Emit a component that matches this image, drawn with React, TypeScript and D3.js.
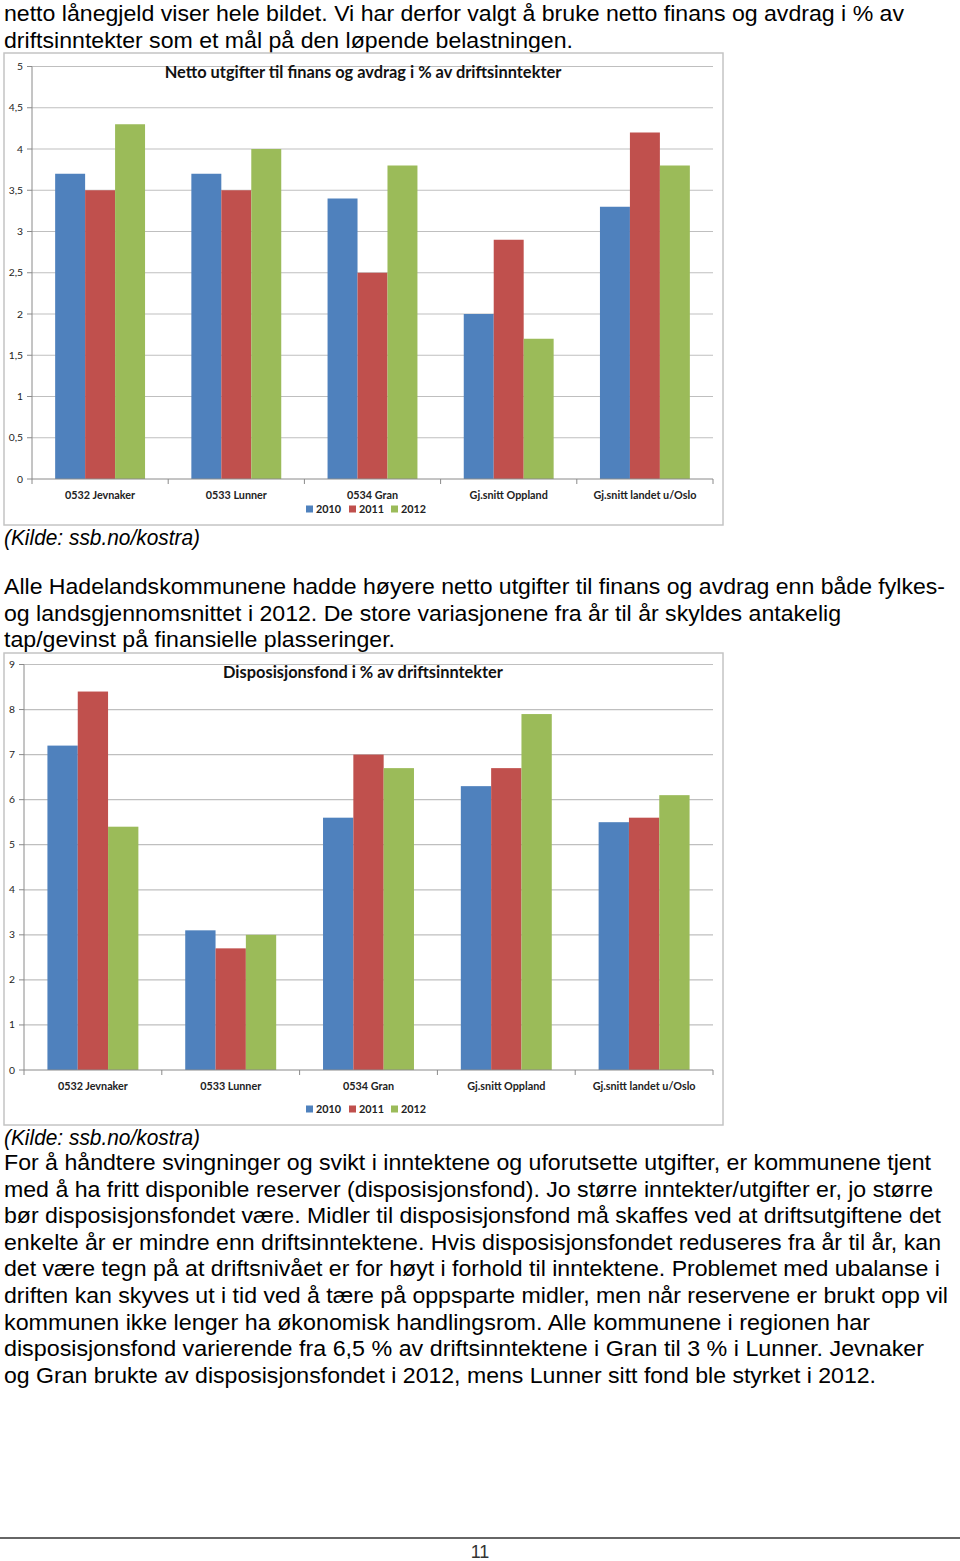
import React from "react";
import * as d3 from "d3";

const categories1 = ["0532 Jevnaker", "0533 Lunner", "0534 Gran", "Gj.snitt Oppland", "Gj.snitt landet u/Oslo"];
const series = ["2010", "2011", "2012"];
const colors = ["#4F81BD", "#C0504D", "#9BBB59"];

const finans2010 = [3.7, 3.7, 3.4, 2.0, 3.3];
const finans2011 = [3.5, 3.5, 2.5, 2.9, 4.2];
const finans2012 = [4.3, 4.0, 3.8, 1.7, 3.8];
const finansTicks = ["0", "0,5", "1", "1,5", "2", "2,5", "3", "3,5", "4", "4,5", "5"];

const fond2010 = [7.2, 3.1, 5.6, 6.3, 5.5];
const fond2011 = [8.4, 2.7, 7.0, 6.7, 5.6];
const fond2012 = [5.4, 3.0, 6.7, 7.9, 6.1];
const fondTicks = ["0", "1", "2", "3", "4", "5", "6", "7", "8", "9"];

const textTop = [
  { t: "netto lånegjeld viser hele bildet. Vi har derfor valgt å bruke netto finans og avdrag i % av", y: 21, w: 900 },
  { t: "driftsinntekter som et mål på den løpende belastningen.", y: 47.5, w: 569 },
];
const textMid = [
  { t: "Alle Hadelandskommunene hadde høyere netto utgifter til finans og avdrag enn både fylkes-", y: 594, w: 941 },
  { t: "og landsgjennomsnittet i 2012. De store variasjonene fra år til år skyldes antakelig", y: 621, w: 837 },
  { t: "tap/gevinst på finansielle plasseringer.", y: 647, w: 391 },
];
const textBottom = [
  { t: "For å håndtere svingninger og svikt i inntektene og uforutsette utgifter, er kommunene tjent", w: 927 },
  { t: "med å ha fritt disponible reserver (disposisjonsfond). Jo større inntekter/utgifter er, jo større", w: 929 },
  { t: "bør disposisjonsfondet være. Midler til disposisjonsfond må skaffes ved at driftsutgiftene det", w: 937 },
  { t: "enkelte år er mindre enn driftsinntektene. Hvis disposisjonsfondet reduseres fra år til år, kan", w: 937 },
  { t: "det være tegn på at driftsnivået er for høyt i forhold til inntektene. Problemet med ubalanse i", w: 936 },
  { t: "driften kan skyves ut i tid ved å tære på oppsparte midler, men når reservene er brukt opp vil", w: 944 },
  { t: "kommunen ikke lenger ha økonomisk handlingsrom.  Alle kommunene i regionen har", w: 866 },
  { t: "disposisjonsfond varierende fra 6,5 % av driftsinntektene i Gran til 3 % i Lunner.  Jevnaker", w: 920 },
  { t: "og Gran brukte av disposisjonsfondet i 2012, mens Lunner sitt fond ble styrket i 2012.", w: 872 },
];

const chartFont = "Lato, 'Open Sans', sans-serif";
const bodyFont = "'Liberation Sans', Arial, sans-serif";

type ChartProps = {
  frame: { x: number; y: number; w: number; h: number };
  plot: { x0: number; x1: number; y0: number; y1: number };
  values: number[][];
  max: number;
  ticks: string[];
  title: string;
  titleY: number;
  labelY: number;
  legendY: number;
};

function BarChart({ frame, plot, values, max, ticks, title, titleY, labelY, legendY }: ChartProps) {
  const x = d3.scaleBand<string>().domain(categories1).range([plot.x0, plot.x1]).paddingInner(0.34).paddingOuter(0.17);
  const xs = d3.scaleBand<string>().domain(series).range([0, x.bandwidth()]);
  const y = d3.scaleLinear().domain([0, max]).range([plot.y0, plot.y1]);
  const tickVals = ticks.map((_, i) => (i * max) / (ticks.length - 1));
  const step = (plot.x1 - plot.x0) / categories1.length;
  const legendXs = [306, 349, 391];
  return (
    <g>
      <rect x={frame.x} y={frame.y} width={frame.w} height={frame.h} fill="#fff" stroke="#c4c4c4" strokeWidth={1.5} />
      {tickVals.map((v, i) => (
        <g key={i}>
          {i > 0 && <line x1={plot.x0} x2={plot.x1} y1={y(v)} y2={y(v)} stroke="#bfbfbf" strokeWidth={1.2} />}
          <line x1={plot.x0 - 5} x2={plot.x0} y1={y(v)} y2={y(v)} stroke="#8a8a8a" />
          <text x={plot.x0 - 9} y={y(v) + 3.5} textAnchor="end" fontSize={10.3} fontFamily={chartFont} fill="#222">{ticks[i]}</text>
        </g>
      ))}
      {values.map((vals, si) =>
        vals.map((v, ci) => (
          <rect key={`${si}-${ci}`} x={(x(categories1[ci]) as number) + (xs(series[si]) as number)} y={y(v)} width={xs.bandwidth()} height={y(0) - y(v)} fill={colors[si]} />
        ))
      )}
      <line x1={plot.x0} x2={plot.x0} y1={plot.y1} y2={plot.y0} stroke="#8a8a8a" />
      <line x1={plot.x0} x2={plot.x1} y1={plot.y0} y2={plot.y0} stroke="#8a8a8a" />
      {d3.range(categories1.length + 1).map((i) => (
        <line key={i} x1={plot.x0 + i * step} x2={plot.x0 + i * step} y1={plot.y0} y2={plot.y0 + 5} stroke="#8a8a8a" />
      ))}
      {categories1.map((c) => (
        <text key={c} x={(x(c) as number) + x.bandwidth() / 2} y={labelY} textAnchor="middle" fontSize={10.8} fontWeight="bold" fontFamily={chartFont} fill="#222">{c}</text>
      ))}
      <text x={363} y={titleY} textAnchor="middle" fontSize={16.4} fontWeight="bold" fontFamily={chartFont} fill="#111">{title}</text>
      {series.map((s, i) => (
        <g key={s}>
          <rect x={legendXs[i]} y={legendY - 3.5} width={7} height={7} fill={colors[i]} />
          <text x={legendXs[i] + 10} y={legendY + 4} fontSize={10.8} fontWeight="bold" fontFamily={chartFont} fill="#222">{s}</text>
        </g>
      ))}
    </g>
  );
}

function Line({ t, y, w, italic }: { t: string; y: number; w?: number; italic?: boolean }) {
  return (
    <text x={4} y={y} fontSize={21.5} fontFamily={bodyFont} fontStyle={italic ? "italic" : "normal"} fill="#000"
      {...(w ? { textLength: w, lengthAdjust: "spacingAndGlyphs" } : {})}>{t}</text>
  );
}

export default function App() {
  return (
    <div style={{ position: "absolute", left: 0, top: 0 }}>
      <svg width={960} height={1561} style={{ display: "block", background: "#fff" }}>
        {textTop.map((l) => <Line key={l.t} t={l.t} y={l.y} w={l.w} />)}
        <BarChart
          frame={{ x: 4, y: 53, w: 719, h: 472 }}
          plot={{ x0: 32, x1: 713, y0: 479, y1: 66.5 }}
          values={[finans2010, finans2011, finans2012]}
          max={5}
          ticks={finansTicks}
          title="Netto utgifter til finans og avdrag i % av driftsinntekter"
          titleY={77.5}
          labelY={499}
          legendY={509}
        />
        <Line t="(Kilde: ssb.no/kostra)" y={545} italic w={196} />
        {textMid.map((l) => <Line key={l.t} t={l.t} y={l.y} w={l.w} />)}
        <BarChart
          frame={{ x: 4, y: 653, w: 719, h: 472 }}
          plot={{ x0: 24, x1: 713, y0: 1070, y1: 664.5 }}
          values={[fond2010, fond2011, fond2012]}
          max={9}
          ticks={fondTicks}
          title="Disposisjonsfond i % av driftsinntekter"
          titleY={677.5}
          labelY={1090}
          legendY={1109}
        />
        <Line t="(Kilde: ssb.no/kostra)" y={1145} italic w={196} />
        {textBottom.map((l, i) => <Line key={l.t} t={l.t} y={1170 + i * 26.6} w={l.w} />)}
        <line x1={0} x2={960} y1={1538} y2={1538} stroke="#333" strokeWidth={1.5} />
        <text x={480} y={1558} textAnchor="middle" fontSize={18} fontFamily={bodyFont} fill="#333">11</text>
      </svg>
    </div>
  );
}
